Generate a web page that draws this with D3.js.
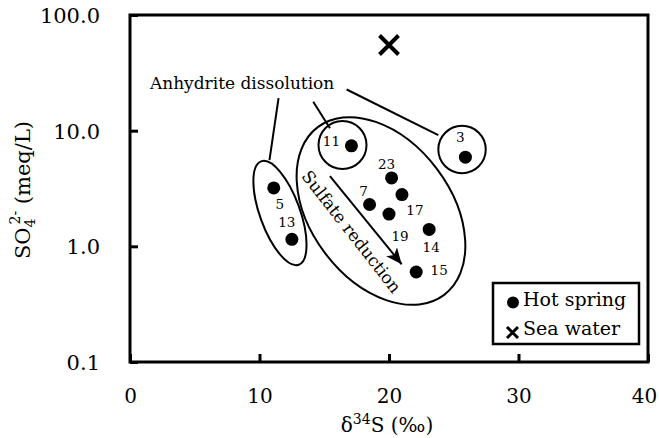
<!DOCTYPE html>
<html>
<head>
<meta charset="utf-8">
<script src="https://cdn.jsdelivr.net/npm/d3@7"></script>
<style>
  body { margin: 0; background: #fff; }
  svg { display: block; font-family: "DejaVu Serif", serif; }
</style>
</head>
<body>
<svg id="chart"></svg>
<script>
// hot spring samples: id, d34S (permil), SO4 (meq/L)
const springIds = ["3", "5", "7", "11", "13", "14", "15", "17", "19", "23"];
const springD34S = [25.9, 11.1, 18.5, 17.1, 12.5, 23.1, 22.1, 21.0, 20.0, 20.2];
const springSO4 = [5.9, 3.2, 2.3, 7.4, 1.15, 1.4, 0.6, 2.8, 1.9, 3.9];

// sea water
const seaD34S = [20.0];
const seaSO4 = [55];

const xTicks = [0, 10, 20, 30, 40];
const yTicks = [0.1, 1, 10, 100];
const legendLabels = ["Hot spring", "Sea water"];

// label offsets (px) from each dot, by id
const labelOffset = {
  "3": [-5, -20], "5": [6, 16], "7": [-6, -13], "11": [-20, -5], "13": [-5, -17],
  "14": [2, 18], "15": [23, -2], "17": [13, 16], "19": [11, 22], "23": [-5, -14]
};

const width = 659, height = 438;
const svg = d3.select("#chart").attr("width", width).attr("height", height);

const x = d3.scaleLinear().domain([0, 40]).range([130, 648]);
const y = d3.scaleLog().domain([0.1, 100]).range([362, 15]);

// x axis (ticks pointing inside)
svg.append("g")
  .attr("transform", "translate(0,362)")
  .call(d3.axisBottom(x).tickValues(xTicks).tickSize(-8).tickFormat(d3.format("d")))
  .call(g => g.select(".domain").remove())
  .call(g => g.selectAll("line").attr("stroke", "#000").attr("stroke-width", 3))
  .call(g => g.selectAll("text").attr("y", 41).attr("dy", null)
    .attr("fill", "#000").attr("font-size", 20).attr("font-family", "DejaVu Serif")
    .attr("dx", d => d === 40 ? -4 : 0));

// y axis
svg.append("g")
  .attr("transform", "translate(130,0)")
  .call(d3.axisLeft(y).tickValues(yTicks).tickSize(-8).tickFormat(d3.format(".1f")))
  .call(g => g.select(".domain").remove())
  .call(g => g.selectAll("line").attr("stroke", "#000").attr("stroke-width", 3))
  .call(g => g.selectAll("text").attr("x", -30).attr("dy", "0.36em")
    .attr("fill", "#000").attr("font-size", 21).attr("font-family", "DejaVu Serif"));

// frame
svg.append("rect")
  .attr("x", x(0)).attr("y", y(100))
  .attr("width", x(40) - x(0)).attr("height", y(0.1) - y(100))
  .attr("fill", "none").attr("stroke", "#000").attr("stroke-width", 3);

// axis titles
const xt = svg.append("text")
  .attr("x", 387).attr("y", 432)
  .attr("text-anchor", "middle").attr("font-size", 20);
xt.append("tspan").text("δ");
xt.append("tspan").attr("font-size", 14).attr("dy", -8).text("34");
xt.append("tspan").attr("dy", 8).text("S (‰)");

const yt = svg.append("text")
  .attr("transform", "translate(30,190) rotate(-90)")
  .attr("text-anchor", "middle").attr("font-size", 21);
yt.append("tspan").text("SO");
yt.append("tspan").attr("font-size", 14).attr("dy", 5).text("4");
yt.append("tspan").attr("font-size", 14).attr("dx", -6).attr("dy", -15).text("2-");
yt.append("tspan").attr("dy", 10).text(" (meq/L)");

// grouping outlines (data coords)
const ann = svg.append("g").attr("fill", "none").attr("stroke", "#000").attr("stroke-width", 2);

const groups = [
  { cx: 11.58, cy: 1.94, rx: 55, ry: 20, rot: 70 },
  { cx: 16.41, cy: 7.51, rx: 24, ry: 24, rot: 0 },
  { cx: 25.64, cy: 6.87, rx: 23.7, ry: 23.7, rot: 0 },
  { cx: 19.38, cy: 2.02, rx: 105, ry: 70, rot: 53 }
];
ann.selectAll("ellipse").data(groups).join("ellipse")
  .attr("transform", d => `translate(${x(d.cx)},${y(d.cy)}) rotate(${d.rot})`)
  .attr("rx", d => d.rx).attr("ry", d => d.ry);

// leader lines from "Anhydrite dissolution"
const leaders = [
  [[11.47, 19.1], [10.77, 5.57]],
  [[14.15, 17.8], [15.44, 10.5]],
  [[16.73, 22.7], [23.81, 9.16]]
];
ann.selectAll("line.leader").data(leaders).join("line")
  .attr("class", "leader")
  .attr("x1", d => x(d[0][0])).attr("y1", d => y(d[0][1]))
  .attr("x2", d => x(d[1][0])).attr("y2", d => y(d[1][1]));

svg.append("text")
  .attr("x", x(1.54)).attr("y", y(22.9))
  .attr("font-size", 17).text("Anhydrite dissolution");

// sulfate reduction arrow
svg.append("defs").append("marker")
  .attr("id", "head").attr("markerUnits", "userSpaceOnUse")
  .attr("markerWidth", 18).attr("markerHeight", 16)
  .attr("refX", 16).attr("refY", 7).attr("orient", "auto")
  .append("path").attr("d", "M0,0 L16,7 L0,14 L4,7 Z").attr("fill", "#000");

svg.append("line")
  .attr("x1", x(15.44)).attr("y1", y(4.05))
  .attr("x2", x(20.98)).attr("y2", y(0.70))
  .attr("stroke", "#000").attr("stroke-width", 2)
  .attr("marker-end", "url(#head)");

svg.append("text")
  .attr("transform", `translate(${x(17.1)},${y(1.34)}) rotate(52)`)
  .attr("text-anchor", "middle").attr("dy", "0.35em")
  .attr("font-size", 17).text("Sulfate reduction");

// hot springs
const springs = springIds.map((id, i) => ({ id, d34S: springD34S[i], so4: springSO4[i] }));

svg.append("g").selectAll("circle").data(springs).join("circle")
  .attr("cx", d => x(d.d34S)).attr("cy", d => y(d.so4))
  .attr("r", 6.5).attr("fill", "#000");

svg.append("g").selectAll("text").data(springs).join("text")
  .attr("x", d => x(d.d34S) + labelOffset[d.id][0])
  .attr("y", d => y(d.so4) + labelOffset[d.id][1])
  .attr("text-anchor", "middle").attr("dy", "0.36em")
  .attr("font-size", 13.5).text(d => d.id);

// sea water
const cross = (g, s, w) => g.append("path")
  .attr("d", `M${-s},${-s}L${s},${s}M${-s},${s}L${s},${-s}`)
  .attr("stroke", "#000").attr("stroke-width", w).attr("fill", "none");

seaD34S.forEach((v, i) => {
  cross(svg.append("g").attr("transform", `translate(${x(v)},${y(seaSO4[i])})`), 9.5, 4);
});

// legend
const lg = svg.append("g").attr("transform", "translate(493,283)");
lg.append("rect").attr("width", 146).attr("height", 61)
  .attr("fill", "#fff").attr("stroke", "#000").attr("stroke-width", 2.5);
lg.append("circle").attr("cx", 20).attr("cy", 19.5).attr("r", 6).attr("fill", "#000");
cross(lg.append("g").attr("transform", "translate(19.5,49.5)"), 5.5, 3);
lg.selectAll("text.lab").data(legendLabels).join("text")
  .attr("class", "lab")
  .attr("x", 30).attr("y", (d, i) => 23 + i * 29)
  .attr("font-size", 19).text(d => d);
</script>
</body>
</html>
